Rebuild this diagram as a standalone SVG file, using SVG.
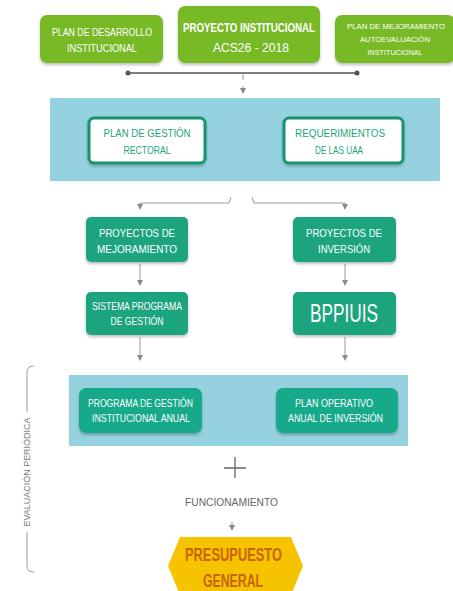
<svg xmlns="http://www.w3.org/2000/svg" width="453" height="591" viewBox="0 0 453 591">
<defs>
<style>
.t{font-family:"Liberation Sans",Arial,sans-serif;text-anchor:middle;}
.w{fill:#ffffff;}
.g{fill:#78b928;}
.teal{fill:#1ca47e;}
.band{fill:#95d2df;}
.wb{fill:#ffffff;stroke:#12946e;stroke-width:3;}
.ln{stroke:#9a9a9a;stroke-width:1;fill:none;}
</style>
<filter id="sh" x="-10%" y="-10%" width="120%" height="130%">
<feDropShadow dx="0" dy="2" stdDeviation="1.5" flood-color="#000" flood-opacity="0.25"/>
</filter>
<marker id="dot" markerWidth="6" markerHeight="6" refX="3" refY="3" markerUnits="userSpaceOnUse">
<circle cx="3" cy="3" r="2.5" fill="#555"/>
</marker>
<marker id="ah" markerWidth="6" markerHeight="6" refX="3" refY="3" orient="auto" markerUnits="userSpaceOnUse">
<path d="M0,0 L6,3 L0,6 z" fill="#8a8a8a"/>
</marker>
</defs>
<rect width="453" height="591" fill="#ffffff"/>

<rect id="band1" x="50" y="98" width="390" height="83" class="band"/>
<rect id="band2" x="69" y="375" width="339" height="71" class="band"/>

<g id="connectors">
<line x1="128" y1="73" x2="357" y2="73" stroke="#555" stroke-width="1.6" marker-start="url(#dot)" marker-end="url(#dot)"/>
<line x1="243" y1="74" x2="243" y2="80" class="ln"/>
<line x1="243" y1="86" x2="243" y2="91" class="ln" marker-end="url(#ah)"/>
<path d="M231 197 L229 203 L140 203 L140 207" class="ln" marker-end="url(#ah)"/>
<path d="M252 197 L254 203 L345 203 L345 207" class="ln" marker-end="url(#ah)"/>
<line x1="140" y1="264" x2="140" y2="283" class="ln" marker-end="url(#ah)"/>
<line x1="345" y1="264" x2="345" y2="283" class="ln" marker-end="url(#ah)"/>
<line x1="140" y1="337" x2="140" y2="358" class="ln" marker-end="url(#ah)"/>
<line x1="345" y1="337" x2="345" y2="358" class="ln" marker-end="url(#ah)"/>
<path d="M224 468 L246 468 M235 457 L235 478" stroke="#666" stroke-width="1.3" fill="none"/>
<line x1="232" y1="522" x2="232" y2="528" class="ln" marker-end="url(#ah)"/>
<path d="M34 366 Q27 366 27 372 L27 412" class="ln"/>
<path d="M27 532 L27 566 Q27 572 34 572" class="ln"/>
</g>

<g id="n-pdi">
<rect x="40" y="15" width="123" height="48" rx="7" class="g" filter="url(#sh)"/>
<text class="t w" x="102" y="36" font-size="10.5" textLength="100" lengthAdjust="spacingAndGlyphs">PLAN DE DESARROLLO</text>
<text class="t w" x="102" y="52" font-size="10.5" textLength="70" lengthAdjust="spacingAndGlyphs">INSTITUCIONAL</text>
</g>
<g id="n-pi">
<rect x="178" y="6" width="142" height="57" rx="7" class="g" filter="url(#sh)"/>
<text class="t w" x="249" y="32" font-size="12.5" font-weight="bold" textLength="132" lengthAdjust="spacingAndGlyphs">PROYECTO INSTITUCIONAL</text>
<text class="t w" x="251" y="52" font-size="12.5" textLength="76" lengthAdjust="spacingAndGlyphs">ACS26 - 2018</text>
</g>
<g id="n-pma">
<rect x="335" y="15" width="120" height="48" rx="7" class="g" filter="url(#sh)"/>
<text class="t w" x="396" y="29" font-size="8" textLength="98" lengthAdjust="spacingAndGlyphs">PLAN DE MEJORAMIENTO</text>
<text class="t w" x="395" y="42" font-size="8" textLength="70" lengthAdjust="spacingAndGlyphs">AUTOEVALUACIÓN</text>
<text class="t w" x="395" y="55" font-size="8" textLength="55" lengthAdjust="spacingAndGlyphs">INSTITUCIONAL</text>
</g>

<g id="n-pgr">
<rect x="89" y="118" width="116" height="45" rx="5" class="wb" filter="url(#sh)"/>
<text class="t teal" x="147" y="137" font-size="10.5" textLength="87" lengthAdjust="spacingAndGlyphs">PLAN DE GESTIÓN</text>
<text class="t teal" x="147" y="154" font-size="10.5" textLength="47" lengthAdjust="spacingAndGlyphs">RECTORAL</text>
</g>
<g id="n-ruaa">
<rect x="284" y="118" width="119" height="45" rx="5" class="wb" filter="url(#sh)"/>
<text class="t teal" x="340" y="137" font-size="10.5" textLength="90" lengthAdjust="spacingAndGlyphs">REQUERIMIENTOS</text>
<text class="t teal" x="339" y="154" font-size="10.5" textLength="48" lengthAdjust="spacingAndGlyphs">DE LAS UAA</text>
</g>

<g id="n-pm">
<rect x="86" y="217" width="102" height="45" rx="5" class="teal" filter="url(#sh)"/>
<text class="t w" x="137" y="237" font-size="11.5" textLength="76" lengthAdjust="spacingAndGlyphs">PROYECTOS DE</text>
<text class="t w" x="137" y="253" font-size="11.5" textLength="80" lengthAdjust="spacingAndGlyphs">MEJORAMIENTO</text>
</g>
<g id="n-pinv">
<rect x="293" y="217" width="103" height="45" rx="5" class="teal" filter="url(#sh)"/>
<text class="t w" x="344" y="237" font-size="11.5" textLength="76" lengthAdjust="spacingAndGlyphs">PROYECTOS DE</text>
<text class="t w" x="344" y="253" font-size="11.5" textLength="52" lengthAdjust="spacingAndGlyphs">INVERSIÓN</text>
</g>
<g id="n-spg">
<rect x="86" y="292" width="102" height="43" rx="5" class="teal" filter="url(#sh)"/>
<text class="t w" x="137" y="310" font-size="10.5" textLength="90" lengthAdjust="spacingAndGlyphs">SISTEMA PROGRAMA</text>
<text class="t w" x="137" y="325" font-size="10.5" textLength="53" lengthAdjust="spacingAndGlyphs">DE GESTIÓN</text>
</g>
<g id="n-bpp">
<rect x="293" y="292" width="103" height="43" rx="5" class="teal" filter="url(#sh)"/>
<text class="t w" x="344" y="322" font-size="26" textLength="68" lengthAdjust="spacingAndGlyphs">BPPIUIS</text>
</g>

<g id="n-pgia">
<rect x="79" y="388" width="123" height="45" rx="7" fill="#19a98a" filter="url(#sh)"/>
<text class="t w" x="140.5" y="407" font-size="10" textLength="105" lengthAdjust="spacingAndGlyphs">PROGRAMA DE GESTIÓN</text>
<text class="t w" x="141" y="422" font-size="10" textLength="98" lengthAdjust="spacingAndGlyphs">INSTITUCIONAL ANUAL</text>
</g>
<g id="n-poai">
<rect x="276" y="388" width="122" height="45" rx="7" fill="#19a98a" filter="url(#sh)"/>
<text class="t w" x="334" y="407" font-size="10" textLength="78" lengthAdjust="spacingAndGlyphs">PLAN OPERATIVO</text>
<text class="t w" x="335.5" y="422" font-size="10" textLength="95" lengthAdjust="spacingAndGlyphs">ANUAL DE INVERSIÓN</text>
</g>

<g id="n-func">
<text class="t" x="231.5" y="506" font-size="10.5" fill="#666" textLength="93" lengthAdjust="spacingAndGlyphs">FUNCIONAMIENTO</text>
</g>

<g id="n-pg">
<polygon points="180,537 291,537 303,566 291,595 180,595 168,566" fill="#f5c300"/>
<text class="t" x="233.5" y="561" font-size="19" font-weight="bold" fill="#c8650c" textLength="97" lengthAdjust="spacingAndGlyphs">PRESUPUESTO</text>
<text class="t" x="233" y="587" font-size="19" font-weight="bold" fill="#c8650c" textLength="60" lengthAdjust="spacingAndGlyphs">GENERAL</text>
</g>

<g id="n-eval">
<text class="t" x="0" y="0" font-size="8.5" fill="#777" textLength="109" lengthAdjust="spacingAndGlyphs" transform="translate(30,472) rotate(-90)">EVALUACIÓN PERIÓDICA</text>
</g>
</svg>
